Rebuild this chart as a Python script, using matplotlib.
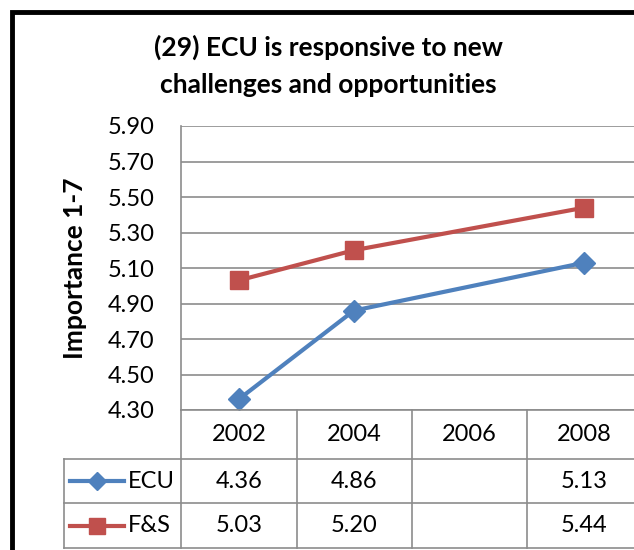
import numpy as np
import matplotlib.pyplot as plt
from matplotlib.patches import Rectangle
from matplotlib.lines import Line2D

years = ['2002', '2004', '2006', '2008']
ecu = [4.36, 4.86, np.nan, 5.13]
fs = [5.03, 5.20, np.nan, 5.44]
series_names = ['ECU', 'F&S']
title = '(29) ECU is responsive to new\nchallenges and opportunities'
ylabel = 'Importance 1-7'
yticks = [4.30, 4.50, 4.70, 4.90, 5.10, 5.30, 5.50, 5.70, 5.90]

blue = '#4F81BD'
red = '#C0504D'
grid = '#8C8C8C'
font = 'Lato'

W, H = 634, 550
fig = plt.figure(figsize=(W / 100, H / 100), dpi=100)


def fx(px):
    return px / W


def fy(py):
    return 1 - py / H


# plot area in pixels
left, right, top, bottom = 181, 642, 126, 410
ax = fig.add_axes([fx(left), fy(bottom), fx(right - left), fy(top) - fy(bottom)])

x = np.arange(len(years))
for vals, col, mk, ms in [(ecu, blue, 'D', 11), (fs, red, 's', 13)]:
    v = np.array(vals)
    ok = ~np.isnan(v)
    ax.plot(x[ok], v[ok], color=col, lw=3, marker=mk, ms=ms, clip_on=False, zorder=3)

ax.set_xlim(-0.5, 3.5)
ax.set_ylim(4.30, 5.90)
ax.set_yticks(yticks)
ax.set_yticklabels(['%.2f' % t for t in yticks], fontsize=17, family=font)
ax.set_xticks([])
ax.yaxis.grid(True, color=grid, lw=1.2)
ax.set_axisbelow(True)
for s in ['top', 'right', 'bottom']:
    ax.spines[s].set_visible(False)
ax.spines['left'].set_color(grid)
ax.spines['left'].set_linewidth(1.2)
ax.tick_params(axis='y', length=0, pad=19)

# data table below the plot
rows = [bottom, 459, 503, 548]
col_edges = [181, 297, 412, 527, 642]
label_left = 64
lc = dict(color=grid, lw=1.2)
fig.add_artist(Line2D([fx(181), fx(642)], [fy(rows[0])] * 2, **lc))
for r in rows[1:]:
    fig.add_artist(Line2D([fx(label_left), fx(642)], [fy(r)] * 2, **lc))
for c in col_edges:
    fig.add_artist(Line2D([fx(c)] * 2, [fy(rows[0]), fy(rows[-1])], **lc))
fig.add_artist(Line2D([fx(label_left)] * 2, [fy(rows[1]), fy(rows[-1])], **lc))

centers = [(col_edges[i] + col_edges[i + 1]) / 2 for i in range(len(years))]
for cx, yr in zip(centers, years):
    fig.text(fx(cx), fy((rows[0] + rows[1]) / 2), yr, ha='center', va='center',
             fontsize=17, family=font)

for i, (name, vals, col, mk, ms) in enumerate([
        (series_names[0], ecu, blue, 'D', 9),
        (series_names[1], fs, red, 's', 11)]):
    ymid = fy((rows[i + 1] + rows[i + 2]) / 2)
    fig.add_artist(Line2D([fx(70), fx(124)], [ymid, ymid], color=col, lw=3))
    fig.add_artist(Line2D([fx(97)], [ymid], color=col, marker=mk, ms=ms, lw=0))
    fig.text(fx(128), ymid, name, ha='left', va='center', fontsize=17, family=font)
    for cx, v in zip(centers, vals):
        if not np.isnan(v):
            fig.text(fx(cx), ymid, '%.2f' % v, ha='center', va='center',
                     fontsize=17, family=font)

fig.text(fx(328), fy(66), title, ha='center', va='center', fontsize=19,
         fontweight='bold', family=font, linespacing=1.62)
fig.text(fx(75), fy(268), ylabel, ha='center', va='center', rotation=90,
         fontsize=19, fontweight='bold', family=font)

# outer chart border
fig.add_artist(Rectangle((fx(12), -0.2), 1.2, fy(12) + 0.2, fill=False,
                         edgecolor='black', lw=3.5))

fig.savefig('out.png', dpi=100)
